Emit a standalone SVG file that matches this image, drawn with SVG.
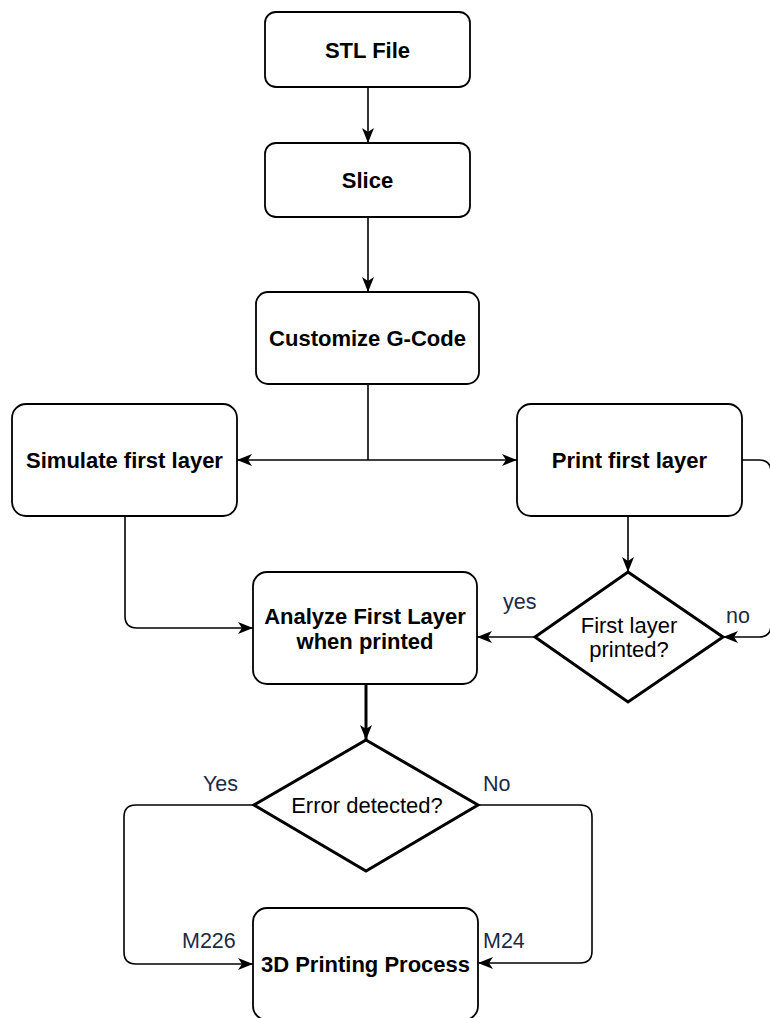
<svg xmlns="http://www.w3.org/2000/svg" width="770" height="1018" viewBox="0 0 770 1018">
<style>
.box{fill:#fff;stroke:#000;stroke-width:1.8}
.dia{fill:#fff;stroke:#000;stroke-width:3}
.t{font-family:"Liberation Sans",Arial,sans-serif;font-size:22px;font-weight:bold;fill:#000;text-anchor:middle}
.r{font-family:"Liberation Sans",Arial,sans-serif;font-size:22px;fill:#000;text-anchor:middle}
.lb{font-family:"Liberation Sans",Arial,sans-serif;font-size:21.5px;fill:#1b2a47}
.c{fill:none;stroke:#000;stroke-width:1.6}
</style>
<defs>
<marker id="a" viewBox="0 0 15 12" refX="15" refY="6" markerWidth="15" markerHeight="12" markerUnits="userSpaceOnUse" orient="auto">
<path d="M0,0 L15,6 L0,12 L4,6 Z" fill="#000"/>
</marker>
</defs>
<rect width="770" height="1018" fill="#fff"/>
<g id="connectors">
<path class="c" d="M368,87 V143" marker-end="url(#a)"/>
<path class="c" d="M368,217 V292" marker-end="url(#a)"/>
<path class="c" d="M368,384 V460"/>
<path class="c" d="M368,460 H237" marker-end="url(#a)"/>
<path class="c" d="M368,460 H517" marker-end="url(#a)"/>
<path class="c" d="M125,516 V616 Q125,628 137,628 H253" marker-end="url(#a)"/>
<path class="c" d="M628,516 V572" marker-end="url(#a)"/>
<path class="c" d="M535,637 H477" marker-end="url(#a)"/>
<path class="c" d="M742,460 H759 Q771,460 771,472 V625 Q771,637 759,637 H723" marker-end="url(#a)"/>
<path class="c" d="M366,684 V740" style="stroke-width:3" marker-end="url(#a)"/>
<path class="c" d="M254,805 H136 Q124,805 124,817 V952 Q124,964 136,964 H253" marker-end="url(#a)"/>
<path class="c" d="M478,805 H580 Q592,805 592,817 V951 Q592,963 580,963 H478" marker-end="url(#a)"/>
<text class="lb" x="503" y="609">yes</text>
<text class="lb" x="726" y="623">no</text>
<text class="lb" x="203" y="791">Yes</text>
<text class="lb" x="483" y="791">No</text>
<text class="lb" x="182" y="948">M226</text>
<text class="lb" x="483" y="948">M24</text>
</g>
<g id="stl"><rect class="box" x="265" y="12" width="205" height="75" rx="11"/><text class="t" x="367.5" y="58">STL File</text></g>
<g id="slice"><rect class="box" x="265" y="143" width="205" height="74" rx="11"/><text class="t" x="367.5" y="188">Slice</text></g>
<g id="customize"><rect class="box" x="256" y="292" width="223" height="92" rx="12"/><text class="t" x="367.5" y="346">Customize G-Code</text></g>
<g id="simulate"><rect class="box" x="12" y="404" width="225" height="112" rx="14"/><text class="t" x="124.5" y="468">Simulate first layer</text></g>
<g id="print"><rect class="box" x="517" y="404" width="225" height="112" rx="14"/><text class="t" x="629.5" y="468">Print first layer</text></g>
<g id="analyze"><rect class="box" x="253" y="572" width="224" height="112" rx="14"/><text class="t" x="365" y="624">Analyze First Layer</text><text class="t" x="365" y="649">when printed</text></g>
<g id="printed"><polygon class="dia" points="628,572 723,637 628,702 535,637"/><text class="r" x="629" y="633">First layer</text><text class="r" x="629" y="657">printed?</text></g>
<g id="error"><polygon class="dia" points="366,740 478,805 366,871 254,805"/><text class="r" x="367" y="813">Error detected?</text></g>
<g id="process"><rect class="box" x="253" y="908" width="225" height="112" rx="14"/><text class="t" x="365.5" y="972">3D Printing Process</text></g>
</svg>
